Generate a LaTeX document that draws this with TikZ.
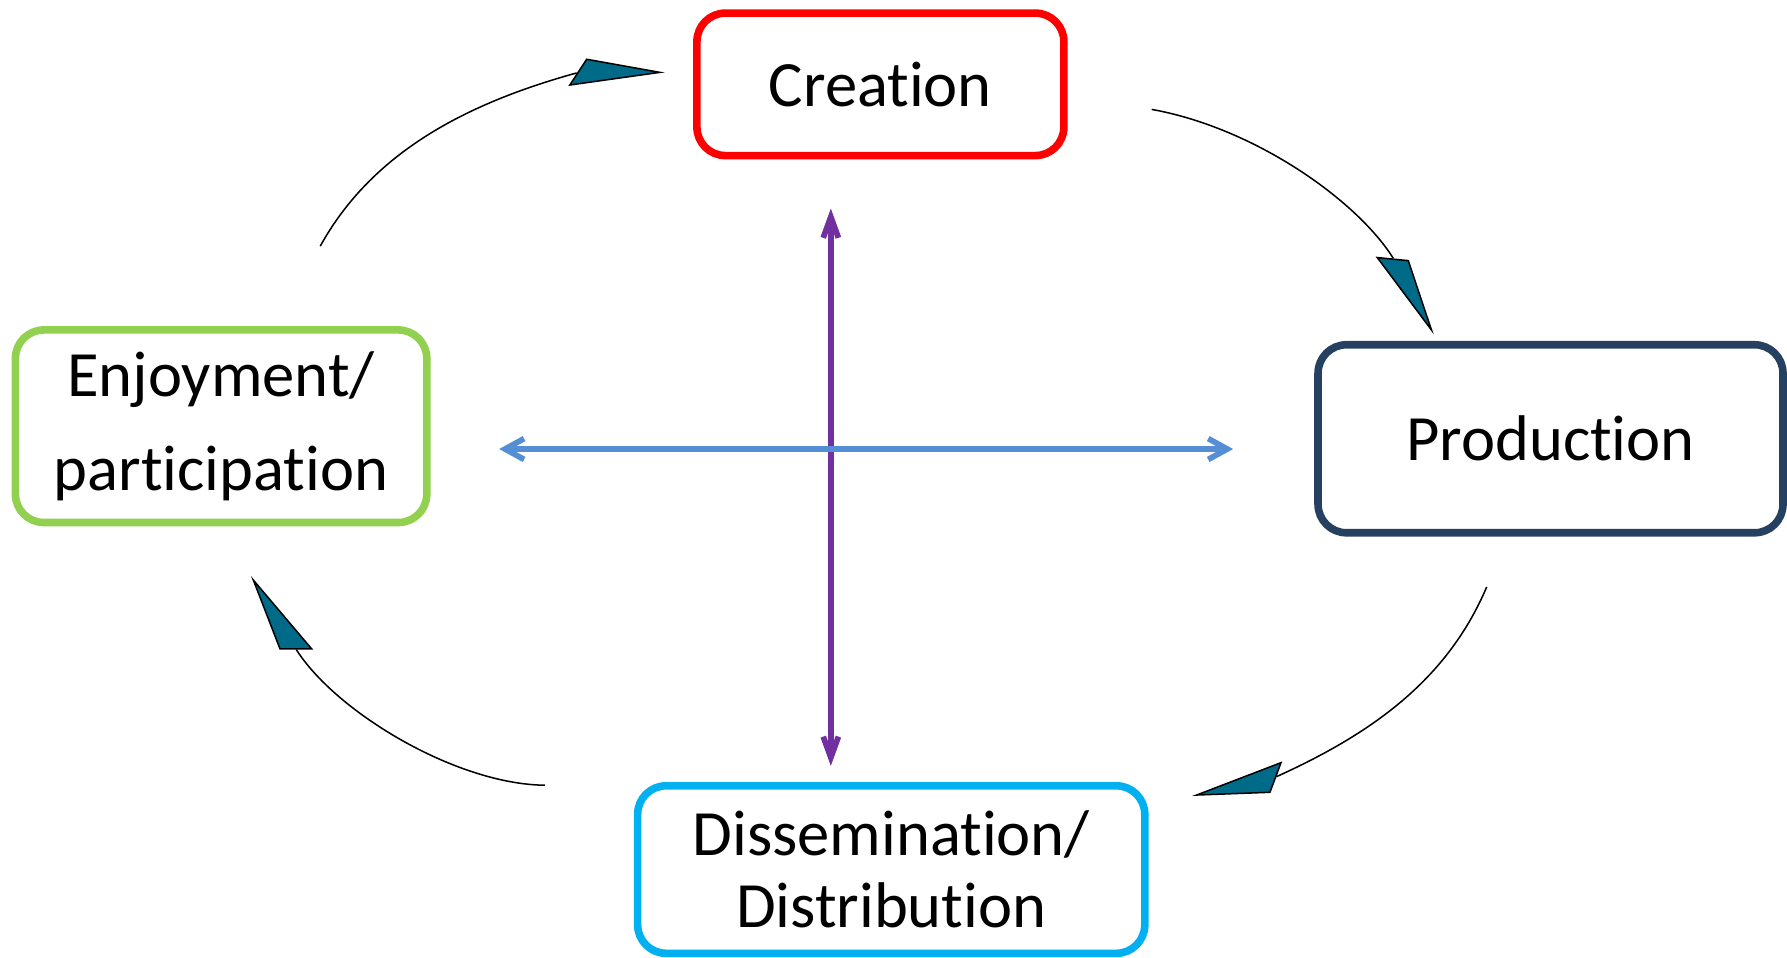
\documentclass[tikz,border=0pt]{standalone}
\usepackage{fontspec}
\setmainfont{Carlito}[Ligatures=NoCommon]
\usepackage{tikz}
\usepackage{xcolor}
\usetikzlibrary{arrows.meta}
\definecolor{creationred}{RGB}{255,0,0}
\definecolor{productionnavy}{RGB}{38,64,97}
\definecolor{disseminationcyan}{RGB}{0,176,240}
\definecolor{enjoymentgreen}{RGB}{146,208,80}
\definecolor{crosspurple}{RGB}{112,48,160}
\definecolor{crossblue}{RGB}{85,142,213}
\definecolor{headteal}{RGB}{0,107,137}
\tikzset{every picture/.style={line width=0.75pt}}
\tikzset{
  stagebox/.style={rectangle, draw, rounded corners=7.5pt, line width=2pt, inner sep=0pt, outer sep=0pt, align=center, font=\fontsize{17pt}{21pt}\selectfont},
  cyclearc/.style={line width=0.4pt},
  cyclehead/.style={fill=headteal, draw=black, line width=0.4pt, line join=miter},
  crossarrow/.style={line width=1.5pt, line cap=round}
}

\begin{document}
\begin{tikzpicture}[x=0.3pt,y=0.3pt,yscale=-1,xscale=1]
\path[use as bounding box] (0,0) rectangle (1568,840);

%Shape: Rounded Rect [id:creation]
\draw (772.5,74) node [stagebox, draw=creationred, minimum width=96.6pt, minimum height=37.5pt] (creation) {Creation};
%Shape: Rounded Rect [id:production]
\draw (1360.5,385) node [stagebox, draw=productionnavy, minimum width=122.4pt, minimum height=49.5pt] (production) {Production};
%Shape: Rounded Rect [id:dissemination]
\draw (782,763) node [stagebox, draw=disseminationcyan, minimum width=133.5pt, minimum height=44.1pt, font=\fontsize{17pt}{19pt}\selectfont] (dissemination) {Dissemination/\\Distribution};
%Shape: Rounded Rect [id:enjoyment]
\draw (194,374) node [stagebox, draw=enjoymentgreen, minimum width=108.3pt, minimum height=50.7pt, font=\fontsize{17pt}{24.7pt}\selectfont] (enjoyment) {Enjoyment/\\participation};

%Curve Lines [id:enjoyment to creation]
\coordinate (tlstart) at (281,216);
\coordinate (tlend) at (506,64);
\draw [cyclearc] (tlstart) .. controls (326.6,133.4) and (409.6,90.6) .. (tlend);
\filldraw [cyclehead] (500,74.6) -- (514.8,52) -- (579,63.5) -- cycle;

%Curve Lines [id:creation to production]
\coordinate (trstart) at (1010.5,96);
\coordinate (trend) at (1222.5,226.6);
\draw [cyclearc] (trstart) .. controls (1100,112) and (1190,175) .. (trend);
\filldraw [cyclehead] (1208.5,226) -- (1235.7,228.7) -- (1256,289.5) -- cycle;

%Curve Lines [id:production to dissemination]
\coordinate (brstart) at (1304.5,515);
\coordinate (brend) at (1120,681.5);
\draw [cyclearc] (brstart) .. controls (1269.4,597.8) and (1201.9,644.4) .. (brend);
\filldraw [cyclehead] (1124,669.2) -- (1114.3,695.2) -- (1050,697.6) -- cycle;

%Curve Lines [id:dissemination to enjoyment]
\coordinate (blstart) at (478,689);
\coordinate (blend) at (260,570);
\draw [cyclearc] (blstart) .. controls (400,688) and (295,625) .. (blend);
\filldraw [cyclehead] (245.7,569.4) -- (273.5,569.4) -- (222.3,509) -- cycle;

%Straight Lines [id:vertical cross]
\coordinate (vtop) at (729,183);
\coordinate (vbottom) at (729,672);
\draw [crossarrow, draw=crosspurple, {Straight Barb[length=5.5pt,width=4pt]}-{Straight Barb[length=5.5pt,width=4pt]}] (vtop) -- (vbottom);
%Straight Lines [id:horizontal cross]
\coordinate (hleft) at (438,394);
\coordinate (hright) at (1082,394);
\draw [crossarrow, draw=crossblue, {Straight Barb[length=5pt,width=5.5pt]}-{Straight Barb[length=5pt,width=5.5pt]}] (hleft) -- (hright);

\end{tikzpicture}
\end{document}
